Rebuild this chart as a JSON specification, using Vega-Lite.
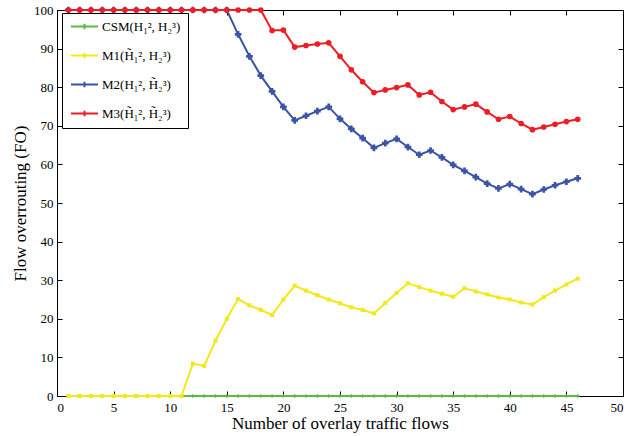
{
  "$schema": "https://vega.github.io/schema/vega-lite/v6.json",
  "autosize": "none",
  "width": 566,
  "height": 386,
  "padding": {"left": 57, "top": 10, "right": 19, "bottom": 40},
  "background": "white",
  "config": {
    "font": "Liberation Serif",
    "view": {"stroke": "black", "strokeWidth": 1},
    "axis": {
      "labelFont": "Liberation Serif",
      "labelFontSize": 13,
      "labelColor": "black",
      "titleFont": "Liberation Serif",
      "titleFontSize": 17,
      "titleFontWeight": "normal",
      "titleColor": "black",
      "domain": false,
      "grid": false,
      "ticks": true,
      "tickColor": "black",
      "tickWidth": 1,
      "tickSize": 5,
      "offset": -5
    }
  },
  "data": {
    "values": [
      {"x": 1, "CSM": 0, "M1": 0, "M2": 100, "M3": 100},
      {"x": 2, "CSM": 0, "M1": 0, "M2": 100, "M3": 100},
      {"x": 3, "CSM": 0, "M1": 0, "M2": 100, "M3": 100},
      {"x": 4, "CSM": 0, "M1": 0, "M2": 100, "M3": 100},
      {"x": 5, "CSM": 0, "M1": 0, "M2": 100, "M3": 100},
      {"x": 6, "CSM": 0, "M1": 0, "M2": 100, "M3": 100},
      {"x": 7, "CSM": 0, "M1": 0, "M2": 100, "M3": 100},
      {"x": 8, "CSM": 0, "M1": 0, "M2": 100, "M3": 100},
      {"x": 9, "CSM": 0, "M1": 0, "M2": 100, "M3": 100},
      {"x": 10, "CSM": 0, "M1": 0, "M2": 100, "M3": 100},
      {"x": 11, "CSM": 0, "M1": 0, "M2": 100, "M3": 100},
      {"x": 12, "CSM": 0, "M1": 8.4, "M2": 100, "M3": 100},
      {"x": 13, "CSM": 0, "M1": 7.8, "M2": 100, "M3": 100},
      {"x": 14, "CSM": 0, "M1": 14.3, "M2": 100, "M3": 100},
      {"x": 15, "CSM": 0, "M1": 20.0, "M2": 100, "M3": 100},
      {"x": 16, "CSM": 0, "M1": 25.1, "M2": 93.7, "M3": 100},
      {"x": 17, "CSM": 0, "M1": 23.5, "M2": 88.0, "M3": 100},
      {"x": 18, "CSM": 0, "M1": 22.3, "M2": 83.0, "M3": 100},
      {"x": 19, "CSM": 0, "M1": 21.0, "M2": 78.9, "M3": 94.7},
      {"x": 20, "CSM": 0, "M1": 25.0, "M2": 74.9, "M3": 94.8},
      {"x": 21, "CSM": 0, "M1": 28.6, "M2": 71.4, "M3": 90.4},
      {"x": 22, "CSM": 0, "M1": 27.3, "M2": 72.6, "M3": 90.8},
      {"x": 23, "CSM": 0, "M1": 26.1, "M2": 73.8, "M3": 91.2},
      {"x": 24, "CSM": 0, "M1": 25.0, "M2": 74.9, "M3": 91.5},
      {"x": 25, "CSM": 0, "M1": 24.0, "M2": 71.8, "M3": 88.0},
      {"x": 26, "CSM": 0, "M1": 23.0, "M2": 69.2, "M3": 84.5},
      {"x": 27, "CSM": 0, "M1": 22.3, "M2": 66.8, "M3": 81.4},
      {"x": 28, "CSM": 0, "M1": 21.4, "M2": 64.3, "M3": 78.6},
      {"x": 29, "CSM": 0, "M1": 24.1, "M2": 65.5, "M3": 79.3},
      {"x": 30, "CSM": 0, "M1": 26.7, "M2": 66.6, "M3": 79.9},
      {"x": 31, "CSM": 0, "M1": 29.2, "M2": 64.5, "M3": 80.6},
      {"x": 32, "CSM": 0, "M1": 28.2, "M2": 62.5, "M3": 78.0},
      {"x": 33, "CSM": 0, "M1": 27.3, "M2": 63.6, "M3": 78.7},
      {"x": 34, "CSM": 0, "M1": 26.5, "M2": 61.8, "M3": 76.3},
      {"x": 35, "CSM": 0, "M1": 25.7, "M2": 59.9, "M3": 74.2},
      {"x": 36, "CSM": 0, "M1": 27.9, "M2": 58.3, "M3": 74.9},
      {"x": 37, "CSM": 0, "M1": 27.1, "M2": 56.7, "M3": 75.6},
      {"x": 38, "CSM": 0, "M1": 26.3, "M2": 55.0, "M3": 73.6},
      {"x": 39, "CSM": 0, "M1": 25.5, "M2": 53.8, "M3": 71.7},
      {"x": 40, "CSM": 0, "M1": 25.0, "M2": 54.9, "M3": 72.4},
      {"x": 41, "CSM": 0, "M1": 24.2, "M2": 53.6, "M3": 70.6},
      {"x": 42, "CSM": 0, "M1": 23.7, "M2": 52.3, "M3": 69.0},
      {"x": 43, "CSM": 0, "M1": 25.6, "M2": 53.5, "M3": 69.7},
      {"x": 44, "CSM": 0, "M1": 27.3, "M2": 54.6, "M3": 70.4},
      {"x": 45, "CSM": 0, "M1": 28.9, "M2": 55.5, "M3": 71.1},
      {"x": 46, "CSM": 0, "M1": 30.4, "M2": 56.4, "M3": 71.7}
    ]
  },
  "transform": [
    {"fold": ["CSM", "M1", "M2", "M3"], "as": ["series", "y"]},
    {"lookup": "series", "from": {"data": {"values": [
      {"series": "CSM", "label": "CSM(H₁², H₂³)", "ord": 0},
      {"series": "M1", "label": "M1(H̃₁², H₂³)", "ord": 1},
      {"series": "M2", "label": "M2(H₁², H̃₂³)", "ord": 2},
      {"series": "M3", "label": "M3(H̃₁², H̃₂³)", "ord": 3}
    ]}, "key": "series", "fields": ["label", "ord"]}}
  ],
  "encoding": {
    "x": {"field": "x", "type": "quantitative", "scale": {"domain": [0, 50], "nice": false}, "axis": null},
    "y": {"field": "y", "type": "quantitative", "scale": {"domain": [0, 100], "nice": false}, "axis": null},
    "color": {
      "field": "label", "type": "nominal",
      "scale": {"domain": ["CSM(H₁², H₂³)", "M1(H̃₁², H₂³)", "M2(H₁², H̃₂³)", "M3(H̃₁², H̃₂³)"], "range": ["#5cb946", "#f2e81a", "#3a53a4", "#ee1d25"]},
      "legend": null
    }
  },
  "layer": [
    {
      "transform": [{"filter": "datum.series == 'CSM'"}],
      "mark": {"type": "line", "strokeWidth": 2, "clip": false},
      "encoding": {
        "x": {"field": "x", "type": "quantitative", "axis": {"values": [0,5,10,15,20,25,30,35,40,45,50], "title": "Number of overlay traffic flows", "titlePadding": 1, "labelPadding": 5}},
        "y": {"field": "y", "type": "quantitative", "axis": {"values": [0,10,20,30,40,50,60,70,80,90,100], "title": "Flow overrouting (FO)", "titlePadding": 4, "labelPadding": 4}},
        "color": {
          "field": "label", "type": "nominal",
          "legend": {
            "title": null,
            "orient": "none",
            "legendX": 5,
            "legendY": 3,
            "strokeColor": "black",
            "fillColor": "white",
            "padding": 7,
            "symbolType": "M-1,0H5M2,-0.6V0.6",
            "symbolSize": 81,
            "symbolStrokeWidth": 2,
            "labelFont": "Liberation Serif",
            "labelFontSize": 13,
            "labelColor": "black",
            "labelOffset": 20,
            "rowPadding": 14,
            "labelLimit": 200
          }
        }
      }
    },
    {
      "transform": [{"filter": "datum.series == 'CSM'"}],
      "mark": {"type": "point", "shape": "cross", "filled": true, "size": 12, "opacity": 1},
      "encoding": {
        "x": {"field": "x", "type": "quantitative", "axis": {"orient": "top", "labels": false, "title": null, "values": [0,5,10,15,20,25,30,35,40,45,50]}},
        "y": {"field": "y", "type": "quantitative", "axis": {"orient": "right", "labels": false, "title": null, "values": [0,10,20,30,40,50,60,70,80,90,100]}}
      }
    },
    {
      "transform": [{"filter": "datum.series == 'M1'"}],
      "mark": {"type": "line", "strokeWidth": 2}
    },
    {
      "transform": [{"filter": "datum.series == 'M1'"}],
      "mark": {"type": "point", "shape": "square", "filled": true, "size": 16, "opacity": 1}
    },
    {
      "transform": [{"filter": "datum.series == 'M2'"}],
      "mark": {"type": "line", "strokeWidth": 2}
    },
    {
      "transform": [{"filter": "datum.series == 'M2'"}],
      "mark": {"type": "point", "shape": "cross", "filled": true, "size": 45, "opacity": 1}
    },
    {
      "transform": [{"filter": "datum.series == 'M3'"}],
      "mark": {"type": "line", "strokeWidth": 2}
    },
    {
      "transform": [{"filter": "datum.series == 'M3'"}],
      "mark": {"type": "point", "shape": "circle", "filled": true, "size": 32, "opacity": 1}
    }
  ],
  "resolve": {"axis": {"x": "independent", "y": "independent"}}
}
